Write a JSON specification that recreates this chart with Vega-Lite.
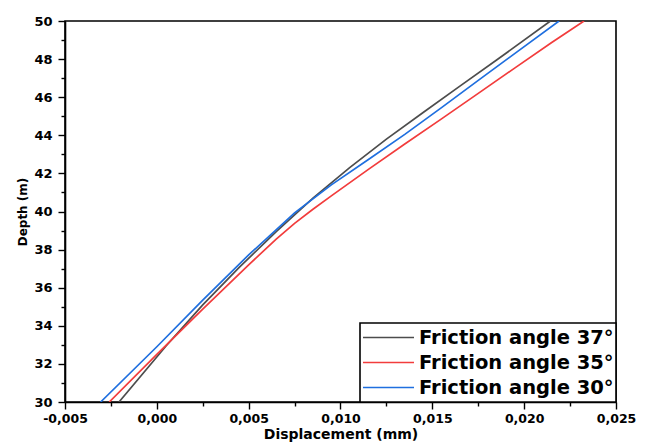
{
  "$schema": "https://vega.github.io/schema/vega-lite/v6.json",
  "width": 551,
  "height": 381,
  "autosize": {"type": "none"},
  "padding": {"left": 65, "top": 21, "right": 33, "bottom": 45},
  "background": "white",
  "config": {
    "view": {"stroke": "black", "strokeWidth": 1.6},
    "axis": {
      "domainColor": "black",
      "domainWidth": 1.6,
      "tickColor": "black",
      "tickWidth": 1.4,
      "grid": false,
      "labelFont": "DejaVu Sans",
      "labelFontWeight": "bold",
      "labelColor": "black",
      "titleFont": "DejaVu Sans",
      "titleFontWeight": "bold",
      "titleColor": "black"
    },
    "legend": {"strokeWidth": 1.6}
  },
  "data": {
    "values": [
      {"series": "Friction angle 37°", "displacement": -0.00206, "depth": 30},
      {"series": "Friction angle 37°", "displacement": 0.0005, "depth": 32.94},
      {"series": "Friction angle 37°", "displacement": 0.0025, "depth": 35.1},
      {"series": "Friction angle 37°", "displacement": 0.0045, "depth": 37.08},
      {"series": "Friction angle 37°", "displacement": 0.0065, "depth": 38.94},
      {"series": "Friction angle 37°", "displacement": 0.0085, "depth": 40.7},
      {"series": "Friction angle 37°", "displacement": 0.0105, "depth": 42.3},
      {"series": "Friction angle 37°", "displacement": 0.0125, "depth": 43.8},
      {"series": "Friction angle 37°", "displacement": 0.0145, "depth": 45.2},
      {"series": "Friction angle 37°", "displacement": 0.0165, "depth": 46.58},
      {"series": "Friction angle 37°", "displacement": 0.0185, "depth": 47.95},
      {"series": "Friction angle 37°", "displacement": 0.02143, "depth": 50},
      {"series": "Friction angle 35°", "displacement": -0.00259, "depth": 30},
      {"series": "Friction angle 35°", "displacement": 0.0, "depth": 32.5},
      {"series": "Friction angle 35°", "displacement": 0.0025, "depth": 34.87},
      {"series": "Friction angle 35°", "displacement": 0.005, "depth": 37.2},
      {"series": "Friction angle 35°", "displacement": 0.0065, "depth": 38.55},
      {"series": "Friction angle 35°", "displacement": 0.0075, "depth": 39.38},
      {"series": "Friction angle 35°", "displacement": 0.0085, "depth": 40.12},
      {"series": "Friction angle 35°", "displacement": 0.0095, "depth": 40.82},
      {"series": "Friction angle 35°", "displacement": 0.0115, "depth": 42.2},
      {"series": "Friction angle 35°", "displacement": 0.0135, "depth": 43.54},
      {"series": "Friction angle 35°", "displacement": 0.0155, "depth": 44.86},
      {"series": "Friction angle 35°", "displacement": 0.0175, "depth": 46.2},
      {"series": "Friction angle 35°", "displacement": 0.0195, "depth": 47.54},
      {"series": "Friction angle 35°", "displacement": 0.0215, "depth": 48.87},
      {"series": "Friction angle 35°", "displacement": 0.02326, "depth": 50},
      {"series": "Friction angle 30°", "displacement": -0.00306, "depth": 30},
      {"series": "Friction angle 30°", "displacement": 0.0, "depth": 32.9},
      {"series": "Friction angle 30°", "displacement": 0.0025, "depth": 35.35},
      {"series": "Friction angle 30°", "displacement": 0.005, "depth": 37.72},
      {"series": "Friction angle 30°", "displacement": 0.0075, "depth": 39.93},
      {"series": "Friction angle 30°", "displacement": 0.0095, "depth": 41.4},
      {"series": "Friction angle 30°", "displacement": 0.0115, "depth": 42.72},
      {"series": "Friction angle 30°", "displacement": 0.0135, "depth": 44.05},
      {"series": "Friction angle 30°", "displacement": 0.0155, "depth": 45.45},
      {"series": "Friction angle 30°", "displacement": 0.0175, "depth": 46.88},
      {"series": "Friction angle 30°", "displacement": 0.0195, "depth": 48.3},
      {"series": "Friction angle 30°", "displacement": 0.0219, "depth": 50}
    ]
  },
  "mark": {"type": "line", "strokeWidth": 1.7, "clip": true},
  "encoding": {
    "x": {
      "field": "displacement",
      "type": "quantitative",
      "scale": {"domain": [-0.005, 0.025], "nice": false, "zero": false},
      "axis": {
        "title": "Displacement (mm)",
        "titleFontSize": 14,
        "titlePadding": 3,
        "labelFontSize": 12.5,
        "labelPadding": 3,
        "labelFlush": false,
        "labelOverlap": false,
        "values": [-0.005, -0.0025, 0, 0.0025, 0.005, 0.0075, 0.01, 0.0125, 0.015, 0.0175, 0.02, 0.0225, 0.025],
        "labelExpr": "abs(round(datum.value*2000)) % 10 === 0 ? replace(replace(format(datum.value, '.3f'), '.', ','), '\u2212', '-') : ''",
        "tickSize": {"condition": {"test": "abs(round(datum.value*2000)) % 10 === 0", "value": 7}, "value": 4}
      }
    },
    "y": {
      "field": "depth",
      "type": "quantitative",
      "scale": {"domain": [30, 50], "nice": false, "zero": false},
      "axis": {
        "title": "Depth (m)",
        "titleFontSize": 12,
        "titlePadding": 4,
        "labelFontSize": 13,
        "labelPadding": 6,
        "labelOverlap": false,
        "values": [30, 31, 32, 33, 34, 35, 36, 37, 38, 39, 40, 41, 42, 43, 44, 45, 46, 47, 48, 49, 50],
        "labelExpr": "datum.value % 2 === 0 ? datum.label : ''",
        "tickSize": {"condition": {"test": "datum.value % 2 === 0", "value": 7}, "value": 4}
      }
    },
    "color": {
      "field": "series",
      "type": "nominal",
      "scale": {
        "domain": ["Friction angle 37°", "Friction angle 35°", "Friction angle 30°"],
        "range": ["#4d4d4d", "#f23c3c", "#1f6fdf"]
      },
      "legend": {
        "title": null,
        "orient": "bottom-right",
        "offset": 0,
        "strokeColor": "black",
        "fillColor": "white",
        "padding": 2,
        "symbolType": "stroke",
        "symbolSize": 2601,
        "symbolStrokeWidth": 1.7,
        "clipHeight": 25,
        "rowPadding": 0,
        "labelOffset": 4,
        "labelFont": "DejaVu Sans",
        "labelFontWeight": "bold",
        "labelFontSize": 19.5,
        "labelColor": "black",
        "labelLimit": 400
      }
    },
    "order": {"field": "depth", "type": "quantitative"}
  }
}
